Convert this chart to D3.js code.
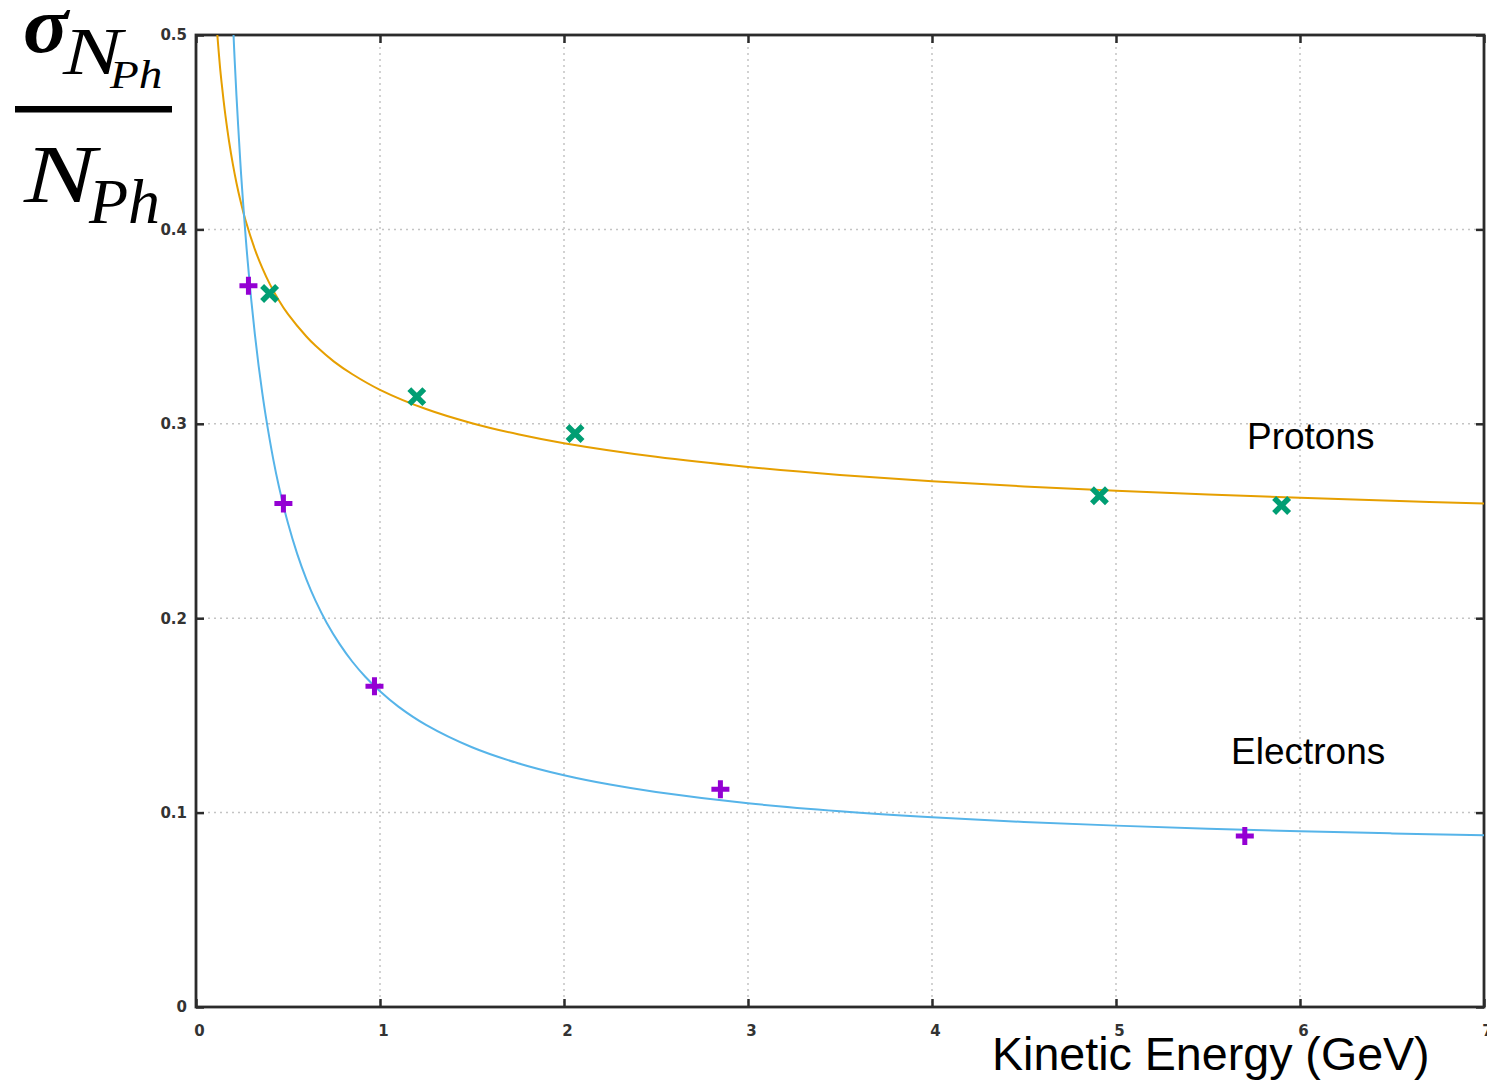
<!DOCTYPE html>
<html>
<head>
<meta charset="utf-8">
<script src="https://cdn.jsdelivr.net/npm/d3@7"></script>
<style>
  html, body { margin: 0; padding: 0; background: #fff; }
  svg { display: block; }
</style>
</head>
<body>
<svg id="chart" width="1487" height="1082"></svg>
<script>
// Tick values
const xTicks = [0, 1, 2, 3, 4, 5, 6, 7];
const yTicks = [0, 0.1, 0.2, 0.3, 0.4, 0.5];

// Measured photon-count resolution (sigma / N) vs kinetic energy (GeV)
const electronE = [0.285, 0.475, 0.97, 2.85, 5.70];
const electronRes = [0.371, 0.259, 0.165, 0.112, 0.088];
const protonE = [0.40, 1.20, 2.06, 4.91, 5.90];
const protonRes = [0.367, 0.314, 0.295, 0.263, 0.258];

// Fitted curves, sampled along energy
const electronFitE = [0.204, 0.21, 0.22, 0.24, 0.25, 0.27, 0.28, 0.30, 0.32, 0.34, 0.36, 0.38, 0.42, 0.45, 0.50, 0.55, 0.60, 0.65, 0.71, 0.78, 0.85, 0.92, 1.0, 1.1, 1.25, 1.5, 1.75, 2.0, 2.25, 2.5, 3.0, 3.5, 4.0, 4.5, 5.0, 5.5, 6.0, 6.5, 7.0];
const electronFitRes = [0.5000, 0.4874, 0.4687, 0.4360, 0.4216, 0.3960, 0.3846, 0.3640, 0.3460, 0.3301, 0.3160, 0.3034, 0.2817, 0.2680, 0.2488, 0.2331, 0.2200, 0.2089, 0.1977, 0.1868, 0.1776, 0.1699, 0.1624, 0.1545, 0.1451, 0.1336, 0.1254, 0.1192, 0.1144, 0.1106, 0.1048, 0.1007, 0.0976, 0.0952, 0.0933, 0.0917, 0.0904, 0.0893, 0.0883];
const protonFitE = [0.116, 0.13, 0.14, 0.15, 0.16, 0.18, 0.20, 0.22, 0.24, 0.27, 0.32, 0.36, 0.40, 0.45, 0.50, 0.60, 0.65, 0.75, 0.85, 1.0, 1.25, 1.5, 1.75, 2.0, 2.5, 3.0, 3.5, 4.0, 4.5, 5.0, 5.5, 6.0, 6.5, 7.0];
const protonFitRes = [0.5000, 0.4840, 0.4747, 0.4662, 0.4585, 0.4451, 0.4337, 0.4239, 0.4154, 0.4044, 0.3897, 0.3802, 0.3721, 0.3636, 0.3564, 0.3449, 0.3401, 0.3320, 0.3255, 0.3175, 0.3076, 0.3003, 0.2946, 0.2900, 0.2830, 0.2778, 0.2737, 0.2705, 0.2678, 0.2655, 0.2636, 0.2619, 0.2604, 0.2590];

const seriesLabels = ["Protons", "Electrons"];
const xTitle = "Kinetic Energy (GeV)";

const svg = d3.select("#chart");
const plotLeft = 196, plotRight = 1484, plotTop = 35, plotBottom = 1007;

const x = d3.scaleLinear().domain([0, 7]).range([plotLeft, plotRight]);
const y = d3.scaleLinear().domain([0, 0.5]).range([plotBottom, plotTop]);

const frameColor = "#2b2b2b";
const tickFont = "'DejaVu Sans', sans-serif";

// Dotted grid
const grid = svg.append("g").attr("stroke", "#c4c4c4").attr("stroke-width", 1.5)
  .attr("stroke-dasharray", "2,4");
grid.selectAll("line.gx").data(xTicks.filter(d => d > 0 && d < 7)).join("line")
  .attr("class", "gx")
  .attr("x1", d => x(d)).attr("x2", d => x(d))
  .attr("y1", plotTop).attr("y2", plotBottom);
grid.selectAll("line.gy").data(yTicks.filter(d => d > 0 && d < 0.5)).join("line")
  .attr("class", "gy")
  .attr("x1", plotLeft).attr("x2", plotRight)
  .attr("y1", d => y(d)).attr("y2", d => y(d));

// Axes with inward ticks
function styleAxis(g) {
  g.select(".domain").remove();
  g.selectAll(".tick line").attr("stroke", frameColor).attr("stroke-width", 2.5);
  g.selectAll(".tick text").attr("fill", "#333").attr("font-family", tickFont)
    .attr("font-weight", "bold").attr("font-size", 15);
}

svg.append("g").attr("transform", `translate(0,${plotBottom})`)
  .call(d3.axisBottom(x).tickValues(xTicks).tickFormat(d3.format("d")).tickSize(-8).tickPadding(18))
  .call(styleAxis)
  .call(g => g.selectAll(".tick text").attr("dx", 3));

svg.append("g").attr("transform", `translate(${plotLeft},0)`)
  .call(d3.axisLeft(y).tickValues(yTicks).tickFormat(d => d === 0 ? "0" : d3.format(".1f")(d)).tickSize(-8).tickPadding(9))
  .call(styleAxis);

svg.append("g").attr("transform", `translate(0,${plotTop})`)
  .call(d3.axisTop(x).tickValues(xTicks).tickFormat("").tickSize(-8))
  .call(styleAxis);

svg.append("g").attr("transform", `translate(${plotRight},0)`)
  .call(d3.axisRight(y).tickValues(yTicks).tickFormat("").tickSize(-8))
  .call(styleAxis);

// Frame
svg.append("rect")
  .attr("x", plotLeft).attr("y", plotTop)
  .attr("width", plotRight - plotLeft).attr("height", plotBottom - plotTop)
  .attr("fill", "none").attr("stroke", frameColor).attr("stroke-width", 2.8);

// Clip for curves
svg.append("clipPath").attr("id", "plotClip")
  .append("rect").attr("x", plotLeft).attr("y", plotTop)
  .attr("width", plotRight - plotLeft).attr("height", plotBottom - plotTop);

const line = d3.line().x(d => x(d[0])).y(d => y(d[1])).curve(d3.curveCatmullRom.alpha(0.5));

svg.append("path")
  .datum(protonFitE.map((e, i) => [e, protonFitRes[i]]))
  .attr("clip-path", "url(#plotClip)")
  .attr("fill", "none").attr("stroke", "#e69f00").attr("stroke-width", 2)
  .attr("d", line);

svg.append("path")
  .datum(electronFitE.map((e, i) => [e, electronFitRes[i]]))
  .attr("clip-path", "url(#plotClip)")
  .attr("fill", "none").attr("stroke", "#56b4e9").attr("stroke-width", 2)
  .attr("d", line);

// Electron markers: plus
const plus = 9;
svg.append("g").selectAll("path").data(electronE.map((e, i) => [e, electronRes[i]])).join("path")
  .attr("d", d => `M${x(d[0]) - plus},${y(d[1])}h${2 * plus}M${x(d[0])},${y(d[1]) - plus}v${2 * plus}`)
  .attr("stroke", "#9400d3").attr("stroke-width", 5).attr("fill", "none");

// Proton markers: cross
const cr = 7.5;
svg.append("g").selectAll("path").data(protonE.map((e, i) => [e, protonRes[i]])).join("path")
  .attr("d", d => `M${x(d[0]) - cr},${y(d[1]) - cr}l${2 * cr},${2 * cr}M${x(d[0]) - cr},${y(d[1]) + cr}l${2 * cr},${-2 * cr}`)
  .attr("stroke", "#009e73").attr("stroke-width", 5.5).attr("fill", "none");

// Series labels
const labelFont = "'Liberation Sans', Arial, sans-serif";
svg.append("text").attr("x", 1247).attr("y", 449)
  .attr("font-family", labelFont).attr("font-size", 37).attr("fill", "#000")
  .text(seriesLabels[0]);
svg.append("text").attr("x", 1231).attr("y", 764)
  .attr("font-family", labelFont).attr("font-size", 37).attr("fill", "#000")
  .text(seriesLabels[1]);

// X axis title
svg.append("text").attr("x", 992).attr("y", 1070)
  .attr("font-family", labelFont).attr("font-size", 46.6).attr("fill", "#000")
  .text(xTitle);

// Y axis title: sigma_{N_Ph} / N_Ph
const serif = "'Liberation Serif', 'Times New Roman', serif";
const yt = svg.append("g").attr("font-family", serif).attr("font-style", "italic").attr("fill", "#000");
function mathText(str, tx, ty, size, sx, weight) {
  yt.append("text")
    .attr("transform", `translate(${tx},${ty}) scale(${sx},1)`)
    .attr("font-size", size)
    .attr("font-weight", weight || "normal")
    .text(str);
}
mathText("σ", 23, 52, 80, 1.05, "bold");
mathText("N", 63, 74, 68, 1.3);
mathText("Ph", 110, 88, 40, 1.18);
svg.append("rect").attr("x", 15).attr("y", 106).attr("width", 157).attr("height", 6.5).attr("fill", "#000");
mathText("N", 24, 202, 83, 1.3);
mathText("Ph", 89, 223, 64, 1.0);
</script>
</body>
</html>
